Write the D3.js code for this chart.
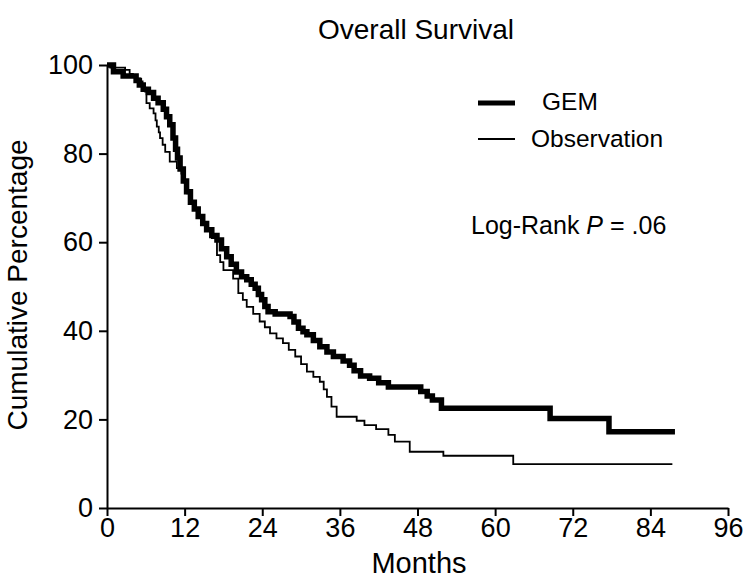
<!DOCTYPE html>
<html>
<head>
<meta charset="utf-8">
<script src="https://cdn.jsdelivr.net/npm/d3@7"></script>
<style>
  body { margin: 0; background: #fff; }
  svg text { font-family: "Liberation Sans", Arial, Helvetica, sans-serif; fill: #000; }
</style>
</head>
<body>
<svg id="chart" width="743" height="582"></svg>
<script>
// step points: month of each drop, survival (%) after it
const gemMonths = [0, 1, 2.5, 4.5, 5, 5.6, 6.4, 7.2, 7.9, 8.7, 9.2, 9.7, 10.2, 10.6, 10.9, 11.3, 11.8, 12.3, 12.9, 13.5, 14.1, 14.8, 15.4, 16.2, 17, 17.7, 18.5, 19.2, 20, 20.8, 21.6, 22.3, 22.9, 23.4, 23.9, 24.4, 24.9, 26, 28.3, 28.9, 29.6, 30.3, 30.9, 31.9, 32.9, 34, 35, 36.5, 37.5, 38.2, 39.2, 40.6, 42, 43.5, 48.5, 49.5, 50.3, 51.7, 68.5, 77.6, 87.8];
const gemPct    = [100, 98.5, 97.5, 96.5, 95.5, 94.5, 93.8, 92.5, 91.5, 90, 88.3, 86.5, 83.5, 81, 79, 76.5, 73.8, 71.4, 69, 67.5, 65.8, 64.2, 62.8, 61.5, 60.5, 58.5, 56.7, 55, 53.3, 52.2, 51.5, 50.5, 49.6, 48.2, 47, 45.5, 44.3, 43.8, 43.2, 42, 40.6, 39.8, 39.1, 37.8, 36.4, 35.2, 34.2, 33.2, 32.2, 31, 29.8, 29.3, 28.3, 27.3, 26.3, 25.3, 24.4, 22.5, 20.2, 17.2, 17.2];

const obsMonths = [0, 0.5, 2.8, 3.5, 4, 4.6, 5.1, 5.5, 5.9, 6.1, 6.6, 7.2, 7.5, 7.7, 8, 8.2, 8.6, 9, 9.7, 10.8, 11.5, 11.9, 12.4, 12.9, 13.5, 14.1, 14.8, 15.4, 16.2, 17, 17.5, 18, 19.5, 20.3, 21, 21.6, 22.6, 23.6, 24.4, 25.2, 26.2, 27.2, 28.1, 29.1, 30, 30.9, 31.9, 32.9, 33.5, 34, 34.7, 35.5, 38.6, 39.8, 41.6, 43.5, 44.5, 46.8, 52, 62.8, 87.4];
const obsPct    = [100, 99.4, 98.9, 98, 97.7, 97, 96.3, 95, 94, 91.4, 90.2, 89.1, 87.5, 86.1, 84.8, 83.5, 82, 80.4, 78.2, 76.7, 75.5, 73.5, 71, 69, 67.5, 65.8, 64.2, 62.8, 60.9, 57.1, 55.5, 53.7, 51.8, 48.5, 47, 45.4, 43.8, 42.1, 40.8, 39.4, 38.3, 37.2, 35.7, 34.2, 32.5, 30.8, 29.6, 28.5, 26.8, 25.1, 22.9, 20.6, 19.7, 18.7, 17.8, 16.5, 15, 12.7, 11.8, 9.9, 9.9];

const xTicks = [0, 12, 24, 36, 48, 60, 72, 84, 96];
const yTicks = [0, 20, 40, 60, 80, 100];

const svg = d3.select("#chart");

const x = d3.scaleLinear().domain([0, 96]).range([107, 728]);
const y = d3.scaleLinear().domain([0, 100]).range([508, 65]);

// axes
const xAxis = svg.append("g")
    .attr("transform", `translate(0, ${y(0)})`)
    .call(d3.axisBottom(x).tickValues(xTicks).tickSize(8).tickSizeOuter(0).tickPadding(2));

const yAxis = svg.append("g")
    .attr("transform", `translate(${x(0)}, 0)`)
    .call(d3.axisLeft(y).tickValues(yTicks).tickSize(8).tickSizeOuter(0).tickPadding(6));

[xAxis, yAxis].forEach(g => {
    g.select(".domain").attr("stroke", "#000").attr("stroke-width", 2);
    g.selectAll(".tick line").attr("stroke", "#000").attr("stroke-width", 2);
    g.selectAll(".tick text").style("font-size", "27px").attr("fill", "#000");
});

// curves
const line = d3.line()
    .x(d => x(d[0]))
    .y(d => y(d[1]))
    .curve(d3.curveStepAfter);

const gem = gemMonths.map((m, i) => [m, gemPct[i]]);
const obs = obsMonths.map((m, i) => [m, obsPct[i]]);

svg.append("path")
    .datum(obs)
    .attr("fill", "none")
    .attr("stroke", "#000")
    .attr("stroke-width", 1.8)
    .attr("d", line);

svg.append("path")
    .datum(gem)
    .attr("fill", "none")
    .attr("stroke", "#000")
    .attr("stroke-width", 5.5)
    .attr("d", line);

// titles
svg.append("text")
    .attr("x", 416).attr("y", 39)
    .attr("text-anchor", "middle")
    .style("font-size", "28px")
    .text("Overall Survival");

svg.append("text")
    .attr("x", 419).attr("y", 573)
    .attr("text-anchor", "middle")
    .style("font-size", "29px")
    .text("Months");

svg.append("text")
    .attr("transform", "translate(27, 285) rotate(-90)")
    .attr("text-anchor", "middle")
    .style("font-size", "28px")
    .text("Cumulative Percentage");

// legend
const legend = [
    { label: "GEM", width: 5, tx: 542, ty: 110, ly: 103 },
    { label: "Observation", width: 1.8, tx: 531, ty: 147, ly: 139 }
];

legend.forEach(d => {
    svg.append("line")
        .attr("x1", 478).attr("x2", 515)
        .attr("y1", d.ly).attr("y2", d.ly)
        .attr("stroke", "#000")
        .attr("stroke-width", d.width);
    svg.append("text")
        .attr("x", d.tx).attr("y", d.ty)
        .style("font-size", "24.5px")
        .text(d.label);
});

const lr = svg.append("text")
    .attr("x", 471).attr("y", 234)
    .style("font-size", "25px");
lr.append("tspan").text("Log-Rank ");
lr.append("tspan").style("font-style", "italic").text("P");
lr.append("tspan").text(" = .06");
</script>
</body>
</html>
